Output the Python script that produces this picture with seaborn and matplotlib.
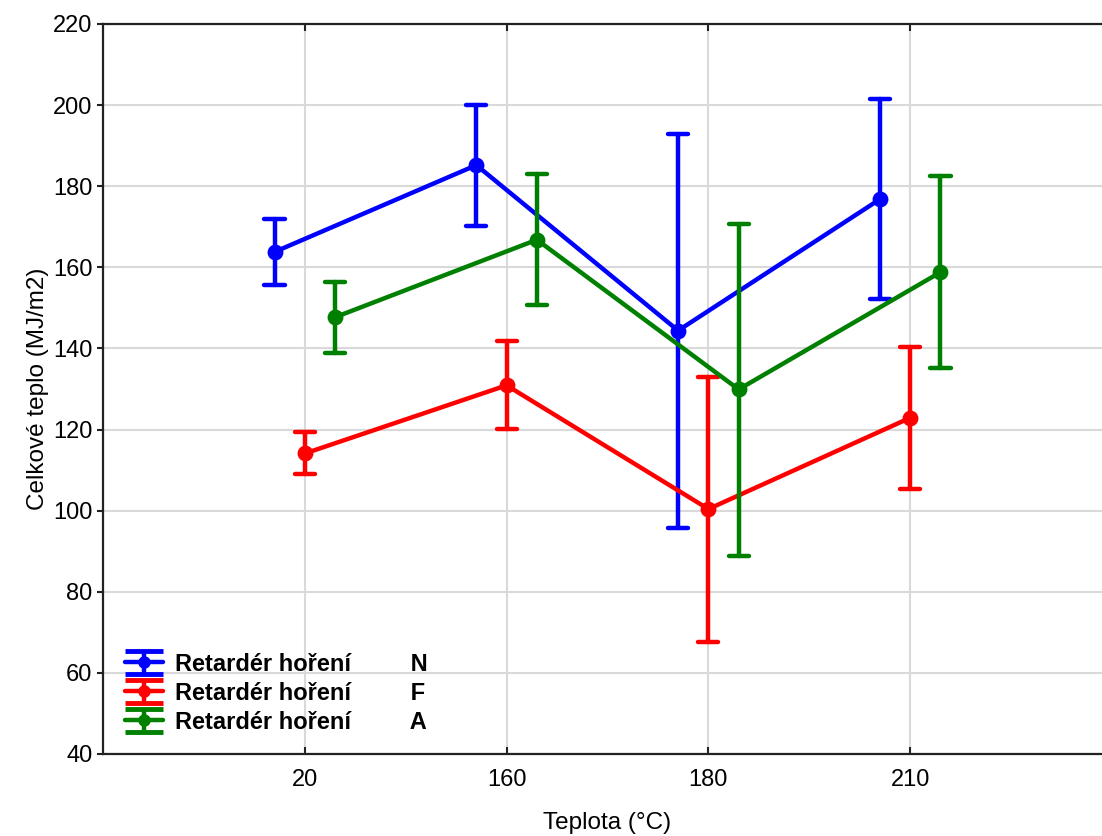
import numpy as np
import pandas as pd
import matplotlib
matplotlib.use("Agg")
import matplotlib.pyplot as plt
from matplotlib.legend_handler import HandlerErrorbar
import seaborn as sns

# ---- data ----
temps = ["20", "160", "180", "210"]
groups = ["N", "F", "A"]
mean_N = [163.8, 185.2, 144.4, 176.8]
low_N = [155.6, 170.2, 95.8, 152.3]
high_N = [171.9, 200.0, 193.0, 201.5]
mean_F = [114.1, 130.9, 100.4, 122.9]
low_F = [109.1, 120.2, 67.7, 105.4]
high_F = [119.4, 141.8, 133.0, 140.3]
mean_A = [147.7, 166.8, 129.9, 158.8]
low_A = [138.8, 150.8, 88.9, 135.2]
high_A = [156.5, 183.1, 170.8, 182.5]
colors = {"N": "#0000ff", "F": "#ff0000", "A": "#008000"}
legend_label = "Retardér hoření"
xlabel = "Teplota (°C)"
ylabel = "Celkové teplo (MJ/m2)"

series = {"N": (mean_N, low_N, high_N),
          "F": (mean_F, low_F, high_F),
          "A": (mean_A, low_A, high_A)}
rows = []
for g, (m, lo, hi) in series.items():
    for t, mv, lv, hv in zip(temps, m, lo, hi):
        for v in (lv, mv, hv):
            rows.append({"Teplota": t, "Skupina": g, "Hodnota": v})
df = pd.DataFrame(rows)

sns.set_theme(style="white")
plt.rcParams["font.family"] = ["Liberation Sans", "DejaVu Sans"]
plt.rcParams["text.color"] = "black"
plt.rcParams["axes.labelcolor"] = "black"

fig = plt.figure(figsize=(11.02, 8.36), dpi=100)
ax = fig.add_axes([103 / 1102, (836 - 754) / 836, (1112 - 103) / 1102, (754 - 24) / 836])

sns.pointplot(data=df, x="Teplota", y="Hodnota", hue="Skupina",
              order=temps, hue_order=groups, palette=colors,
              estimator="median", errorbar=("pi", 100),
              dodge=0.3, capsize=0.1, markers="o",
              linewidth=3.2, markersize=9,
              err_kws={"linewidth": 3.2},
              legend=False, ax=ax)

ax.set_xlim(-1, 4)
ax.set_ylim(40, 220)
ax.set_yticks(np.arange(40, 221, 20))
ax.grid(True, color="#d9d9d9", linewidth=1.5)
ax.set_axisbelow(True)
for s in ["left", "bottom", "top"]:
    ax.spines[s].set_visible(True)
    ax.spines[s].set_color("#222222")
    ax.spines[s].set_linewidth(1.6)
ax.spines["right"].set_visible(False)
ax.tick_params(axis="y", direction="out", length=4, width=1.5, labelsize=17, colors="#222222", labelcolor="black", left=True)
ax.tick_params(axis="x", direction="in", length=5, width=1.5, labelsize=17, colors="#222222", labelcolor="black", bottom=True, top=True, pad=11)
ax.set_xlabel(xlabel, fontsize=17.5, labelpad=15)
ax.set_ylabel(ylabel, fontsize=17.5, labelpad=3)

handles = []
for g in groups:
    h = ax.errorbar([np.nan], [np.nan], yerr=[1], color=colors[g], marker="o",
                    markersize=8, linewidth=3.2, elinewidth=3.2, capsize=13.7, capthick=3.5,
                    label=f"{legend_label}         {g}")
    handles.append(h)
leg = ax.legend(handles=handles, loc="lower left", bbox_to_anchor=(0.022, 0.028),
                frameon=False, borderaxespad=0, borderpad=0, handlelength=1.6,
                handletextpad=0.5, labelspacing=0.25,
                handler_map={type(handles[0]): HandlerErrorbar(xerr_size=0.5, yerr_size=0.48)},
                prop={"weight": "bold", "size": 17})

fig.savefig("out.png", dpi=100)
